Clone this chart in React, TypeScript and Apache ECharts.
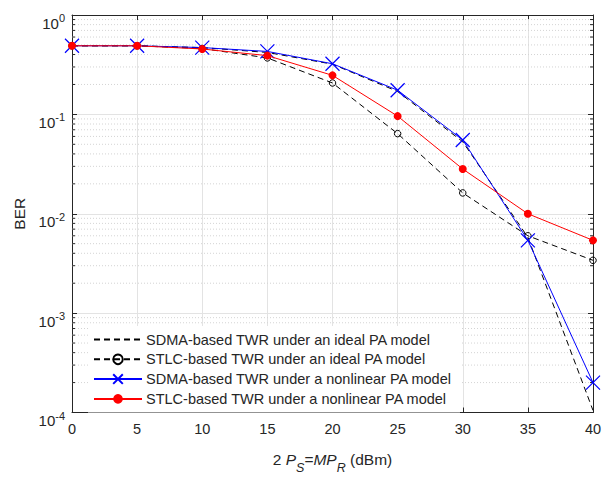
import React, { useEffect, useRef } from "react";
import * as echarts from "echarts";

const xValues = [0, 5, 10, 15, 20, 25, 30, 35, 40];
const sdmaIdeal = [0.49, 0.49, 0.47, 0.42, 0.32, 0.17, 0.053, 0.0058, 1.05e-4];
const stlcIdeal = [0.49, 0.49, 0.46, 0.37, 0.207, 0.064, 0.0162, 0.006, 0.0034];
const sdmaNonlinear = [0.49, 0.49, 0.47, 0.43, 0.323, 0.175, 0.0552, 0.0054, 0.0002];
const stlcNonlinear = [0.49, 0.49, 0.455, 0.39, 0.247, 0.096, 0.0282, 0.01, 0.0054];
const seriesNames = [
  "SDMA-based TWR under an ideal PA model",
  "STLC-based TWR under an ideal PA model",
  "SDMA-based TWR under a nonlinear PA model",
  "STLC-based TWR under a nonlinear PA model",
];
const yMin = 1e-4;
const yMax = 1;
const minorMultipliers = [2, 3, 4, 5, 6, 7, 8, 9];
const decades = [1e-4, 1e-3, 1e-2, 1e-1];

const FONT = "Liberation Sans, Arial, Helvetica, sans-serif";
const TXT = "#262626";

function pairs(ys: number[]) {
  return xValues.map((x, i) => [x, ys[i]]);
}

export default function App() {
  const ref = useRef<HTMLDivElement>(null);
  useEffect(() => {
    if (!ref.current) return;
    const chart = echarts.init(ref.current, undefined, { renderer: "svg" });
    const minorVals: number[][] = [];
    decades.forEach((d) => minorMultipliers.forEach((m) => minorVals.push([0, m * d])));

    const supLabel = (v: number) => {
      const e = Math.round(Math.log10(v));
      return `{b|10}{s|${e}}`;
    };

    const option: any = {
      animation: false,
      backgroundColor: "#fff",
      textStyle: { fontFamily: FONT },
      grid: { left: 72, right: 20, top: 15, bottom: 56, containLabel: false },
      xAxis: [
        {
          type: "value",
          min: 0,
          max: 40,
          interval: 5,
          position: "bottom",
          axisLine: { show: true, onZero: false, lineStyle: { color: TXT, width: 1 } },
          axisTick: { show: true, inside: true, length: 5, lineStyle: { color: TXT } },
          axisLabel: { color: TXT, fontSize: 14.5, margin: 9, fontFamily: FONT },
          splitLine: { show: true, lineStyle: { color: "#e3e3e3", width: 1 } },
          name: "{n|2 }{i|P}{si|S}{n|=}{i|MP}{si|R}{n| (dBm)}",
          nameLocation: "middle",
          nameGap: 39,
          nameTextStyle: {
            color: TXT,
            fontFamily: FONT,
            fontSize: 15.5,
            rich: {
              n: { fontSize: 15.5, color: TXT, lineHeight: 15, verticalAlign: "top", fontFamily: FONT },
              i: { fontSize: 15.5, color: TXT, fontStyle: "italic", lineHeight: 15, verticalAlign: "top", fontFamily: FONT },
              si: {
                fontSize: 12.5,
                color: TXT,
                fontStyle: "italic",
                lineHeight: 12.5,
                padding: [9.5, 0, 0, 0],
                verticalAlign: "top",
                fontFamily: FONT,
              },
            },
          },
        },
        {
          type: "value",
          min: 0,
          max: 40,
          interval: 5,
          position: "top",
          axisLine: { show: true, onZero: false, lineStyle: { color: TXT, width: 1 } },
          axisTick: { show: true, inside: true, length: 5, lineStyle: { color: TXT } },
          axisLabel: { show: false },
          splitLine: { show: false },
        },
      ],
      yAxis: [
        {
          type: "log",
          logBase: 10,
          min: yMin,
          max: yMax,
          position: "left",
          axisLine: { show: true, onZero: false, lineStyle: { color: TXT, width: 1 } },
          axisTick: { show: true, inside: true, length: 5, lineStyle: { color: TXT } },
          axisLabel: {
            color: TXT,
            margin: 7,
            fontSize: 15,
            fontFamily: FONT,
            formatter: supLabel,
            rich: {
              b: {
                fontSize: 15,
                color: TXT,
                lineHeight: 15,
                padding: [8, 0, 0, 0],
                verticalAlign: "top",
                fontFamily: FONT,
              },
              s: {
                fontSize: 11,
                color: TXT,
                lineHeight: 11,
                padding: [5, 0, 0, 0],
                verticalAlign: "top",
                fontFamily: FONT,
              },
            },
          },
          splitLine: { show: true, lineStyle: { color: "#e3e3e3", width: 1 } },
          name: "BER",
          nameLocation: "middle",
          nameGap: 40,
          nameRotate: 90,
          nameTextStyle: { color: TXT, fontSize: 15.5, fontFamily: FONT },
        },
        {
          type: "log",
          logBase: 10,
          min: yMin,
          max: yMax,
          position: "right",
          axisLine: { show: true, onZero: false, lineStyle: { color: TXT, width: 1 } },
          axisTick: { show: true, inside: true, length: 5, lineStyle: { color: TXT } },
          axisLabel: { show: false },
          splitLine: { show: false },
        },
      ],
      legend: {
        data: seriesNames,
        orient: "vertical",
        left: 88,
        top: 326,
        itemWidth: 48,
        itemHeight: 12,
        itemGap: 4.8,
        padding: [6, 8, 6, 5],
        backgroundColor: "#ffffff",
        borderWidth: 0,
        textStyle: { color: TXT, fontSize: 14.5, fontFamily: FONT, padding: [0, 0, 0, -1] },
      },
      series: [
        {
          type: "custom",
          name: "minor",
          silent: true,
          z: 1,
          data: minorVals,
          renderItem: (params: any, api: any) => {
            const v = api.value(1);
            const p0 = api.coord([0, v]);
            const p1 = api.coord([40, v]);
            return {
              type: "group",
              children: [
                {
                  type: "line",
                  shape: { x1: p0[0], y1: p0[1], x2: p1[0], y2: p1[1] },
                  style: { stroke: "#d4d4d4", lineWidth: 1, lineDash: [1, 2] },
                },
                {
                  type: "line",
                  shape: { x1: p0[0], y1: p0[1], x2: p0[0] + 3, y2: p0[1] },
                  style: { stroke: TXT, lineWidth: 1 },
                },
                {
                  type: "line",
                  shape: { x1: p1[0] - 3, y1: p1[1], x2: p1[0], y2: p1[1] },
                  style: { stroke: TXT, lineWidth: 1 },
                },
              ],
            };
          },
        },
        {
          type: "line",
          name: seriesNames[0],
          data: pairs(sdmaIdeal),
          showSymbol: false,
          symbol: "none",
          z: 3,
          lineStyle: { color: "#000", width: 1, type: [6, 4] },
          itemStyle: { color: "rgba(0,0,0,0)", borderColor: "rgba(0,0,0,0)", borderWidth: 0 },
        },
        {
          type: "line",
          name: seriesNames[1],
          data: pairs(stlcIdeal),
          symbol: "circle",
          symbolSize: 6.5,
          z: 3,
          lineStyle: { color: "#000", width: 1, type: [6, 4] },
          itemStyle: { color: "rgba(0,0,0,0)", borderColor: "#000", borderWidth: 1 },
        },
        {
          type: "line",
          name: seriesNames[2],
          data: pairs(sdmaNonlinear),
          symbol: "path://M0,0L10,10M10,0L0,10",
          symbolSize: 14,
          z: 4,
          lineStyle: { color: "#0000ff", width: 1 },
          itemStyle: { color: "rgba(0,0,255,0)", borderColor: "#0000ff", borderWidth: 1.2 },
        },
        {
          type: "line",
          name: seriesNames[3],
          data: pairs(stlcNonlinear),
          symbol: "circle",
          symbolSize: 8,
          z: 5,
          lineStyle: { color: "#ff0000", width: 1 },
          itemStyle: { color: "#ff0000", borderWidth: 0 },
        },
      ],
    };
    chart.setOption(option);
    return () => chart.dispose();
  }, []);
  return <div ref={ref} style={{ width: 613, height: 479, position: "absolute", left: 0, top: 0 }} />;
}
